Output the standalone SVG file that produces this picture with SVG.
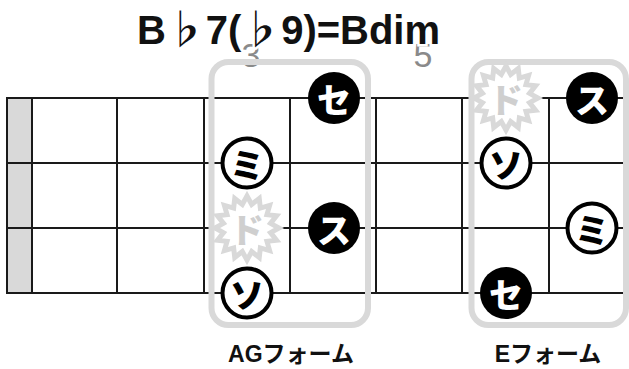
<svg xmlns="http://www.w3.org/2000/svg" xmlns:xlink="http://www.w3.org/1999/xlink" width="629" height="369" viewBox="0 0 629 369">
<style>
.line{stroke:#1a1a1a;stroke-width:2;fill:none}
.box{fill:none;stroke:#d9d9d9;stroke-width:6}
.dotb{fill:#000}
.doto{fill:#fff;stroke:#000;stroke-width:4}
.kw{font-family:"Noto Sans CJK JP",sans-serif;font-weight:900;font-size:34px;text-anchor:middle;dominant-baseline:central;fill:#fff}
.kb{font-family:"Noto Sans CJK JP",sans-serif;font-weight:900;font-size:34px;text-anchor:middle;dominant-baseline:central;fill:#000}
.kg{font-family:"Noto Sans CJK JP",sans-serif;font-weight:900;font-size:34px;text-anchor:middle;dominant-baseline:central;fill:#cfcfcf}
.star{fill:#fff;stroke:#d9d9d9;stroke-width:5;stroke-linejoin:miter}
.fret{font-family:"Liberation Sans",sans-serif;font-size:34px;fill:#8a8a8a;text-anchor:middle}
.lbl{font-family:"Liberation Sans","Noto Sans CJK JP",sans-serif;font-weight:bold;font-size:23px;fill:#111;text-anchor:middle}
</style>
<defs>
<polygon id="star" class="star" points="32,0 23.54,4.68 29.56,12.25 19.96,13.34 22.63,22.63 13.34,19.96 12.25,29.56 4.68,23.54 0,32 -4.68,23.54 -12.25,29.56 -13.34,19.96 -22.63,22.63 -19.96,13.34 -29.56,12.25 -23.54,4.68 -32,0 -23.54,-4.68 -29.56,-12.25 -19.96,-13.34 -22.63,-22.63 -13.34,-19.96 -12.25,-29.56 -4.68,-23.54 0,-32 4.68,-23.54 12.25,-29.56 13.34,-19.96 22.63,-22.63 19.96,-13.34 29.56,-12.25 23.54,-4.68"/>
</defs>
<rect width="629" height="369" fill="#fff"/>
<g id="fret-numbers">
<text class="fret" x="251" y="67">3</text>
<text class="fret" x="423" y="67">5</text>
</g>
<g id="title">
<text x="137" y="44" textLength="303" lengthAdjust="spacing" style="font-family:'Liberation Sans','Noto Sans CJK JP',sans-serif;font-weight:bold;font-size:40px;fill:#111;stroke:#fff;stroke-width:5;paint-order:stroke">B♭7(♭9)=Bdim</text>
</g>
<g id="fretboard">
<rect x="7" y="98" width="25" height="195" fill="#d9d9d9" stroke="#1a1a1a" stroke-width="2"/>
<g class="line">
<line x1="7" y1="98" x2="625" y2="98"/>
<line x1="7" y1="163" x2="625" y2="163"/>
<line x1="7" y1="228" x2="625" y2="228"/>
<line x1="7" y1="293" x2="625" y2="293"/>
<line x1="32" y1="98" x2="32" y2="293"/>
<line x1="117" y1="98" x2="117" y2="293"/>
<line x1="204" y1="98" x2="204" y2="293"/>
<line x1="290" y1="98" x2="290" y2="293"/>
<line x1="376" y1="98" x2="376" y2="293"/>
<line x1="462" y1="98" x2="462" y2="293"/>
<line x1="549" y1="98" x2="549" y2="293"/>
</g>
</g>
<g id="ag-form">
<rect class="box" x="211.5" y="62" width="156.5" height="263" rx="17"/>
<g id="ag-se"><circle class="dotb" cx="334" cy="98" r="26"/><text class="kw" x="334" y="98">セ</text></g>
<g id="ag-mi"><circle class="doto" cx="247" cy="163" r="24.5"/><text class="kb" x="247" y="163">ミ</text></g>
<g id="ag-do"><use xlink:href="#star" x="247" y="228"/><text class="kg" x="247" y="228">ド</text></g>
<g id="ag-su"><circle class="dotb" cx="334" cy="228" r="26"/><text class="kw" x="334" y="228">ス</text></g>
<g id="ag-so"><circle class="doto" cx="247" cy="293" r="24.5"/><text class="kb" x="247" y="293">ソ</text></g>
<text class="lbl" x="291" y="362">AGフォーム</text>
</g>
<g id="e-form">
<rect class="box" x="471.5" y="62" width="154.5" height="263" rx="17"/>
<g id="e-do"><use xlink:href="#star" x="506" y="98"/><text class="kg" x="506" y="98">ド</text></g>
<g id="e-su"><circle class="dotb" cx="592" cy="98" r="26"/><text class="kw" x="592" y="98">ス</text></g>
<g id="e-so"><circle class="doto" cx="506" cy="163" r="24.5"/><text class="kb" x="506" y="163">ソ</text></g>
<g id="e-mi"><circle class="doto" cx="592" cy="228" r="24.5"/><text class="kb" x="592" y="228">ミ</text></g>
<g id="e-se"><circle class="dotb" cx="506" cy="293" r="26"/><text class="kw" x="506" y="293">セ</text></g>
<text class="lbl" x="548" y="362">Eフォーム</text>
</g>
</svg>
